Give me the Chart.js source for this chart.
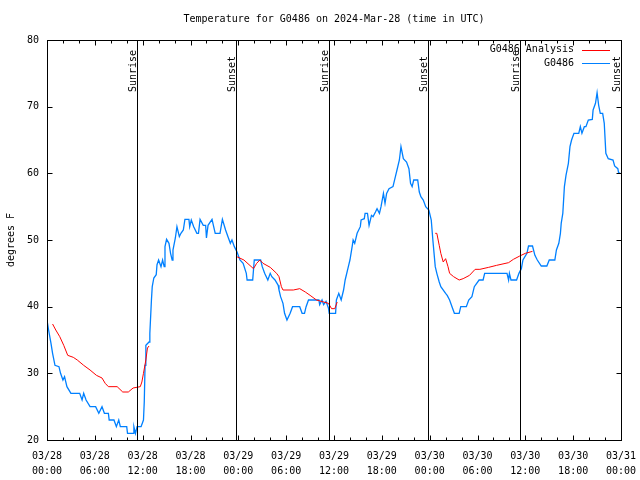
<!DOCTYPE html>
<html>
<head>
<meta charset="utf-8">
<script src="https://cdn.jsdelivr.net/npm/chart.js@4.4.1/dist/chart.umd.min.js"></script>
<style>
  html, body { margin: 0; padding: 0; background: #fff; }
  #wrap { width: 640px; height: 480px; }
</style>
</head>
<body>
<div id="wrap"><canvas id="tempChart" width="640" height="480"></canvas></div>
<script>
// Hours since 03/28 00:00 UTC and temperatures (F)
const obsHours = [0.0, 0.2, 0.5, 0.7, 1.0, 1.5, 1.7, 2.0, 2.2, 2.5, 3.0, 4.1, 4.4, 4.6, 4.9, 5.4, 6.1, 6.5, 6.9, 7.2, 7.7, 7.8, 8.4, 8.7, 9.0, 9.2, 10.0, 10.1, 10.8, 10.9, 11.1, 11.3, 11.8, 12.1, 12.2, 12.3, 12.4, 12.8, 12.9, 13.1, 13.2, 13.4, 13.7, 13.8, 14.0, 14.3, 14.5, 14.7, 14.8, 15.0, 15.3, 15.5, 15.7, 15.8, 16.1, 16.3, 16.6, 16.8, 17.1, 17.3, 17.8, 17.9, 18.1, 18.4, 18.8, 19.0, 19.2, 19.6, 19.9, 20.0, 20.2, 20.7, 21.1, 21.7, 22.0, 22.4, 22.7, 23.0, 23.2, 23.5, 23.8, 24.2, 24.6, 25.0, 25.1, 25.8, 26.0, 26.8, 27.0, 27.3, 27.7, 28.0, 28.2, 28.6, 29.0, 29.1, 29.3, 29.6, 29.8, 30.1, 30.5, 30.8, 31.7, 32.0, 32.3, 32.5, 32.8, 34.1, 34.2, 34.5, 34.7, 35.0, 35.3, 35.4, 36.2, 36.3, 36.6, 36.9, 37.2, 37.4, 37.8, 38.0, 38.3, 38.4, 38.6, 38.9, 39.3, 39.4, 39.8, 39.9, 40.2, 40.4, 40.7, 40.9, 41.2, 41.4, 41.7, 41.9, 42.2, 42.4, 42.6, 42.9, 43.4, 43.7, 43.9, 44.2, 44.4, 44.7, 45.1, 45.4, 45.6, 45.8, 46.0, 46.5, 46.7, 46.9, 47.2, 47.5, 47.9, 48.2, 48.4, 48.7, 48.9, 49.2, 49.4, 50.0, 50.2, 50.5, 50.8, 51.1, 51.7, 51.9, 52.6, 52.9, 53.3, 53.6, 54.2, 54.7, 54.9, 57.7, 57.9, 58.0, 58.2, 58.9, 59.2, 59.5, 59.7, 60.2, 60.4, 60.9, 61.2, 61.5, 62.0, 62.7, 63.0, 63.7, 63.9, 64.2, 64.4, 64.5, 64.7, 64.9, 65.1, 65.4, 65.6, 65.8, 66.1, 66.7, 66.9, 67.1, 67.4, 67.6, 67.9, 68.4, 68.5, 68.8, 69.0, 69.2, 69.4, 69.7, 69.9, 70.1, 70.4, 71.0, 71.2, 71.6, 71.7, 71.9];
const obsTemps = [38, 36.5, 34.5, 33, 31.2, 31, 30, 29, 29.5, 28, 27, 27, 26, 27, 26, 25, 25, 24, 25, 24, 24, 23, 23, 22, 23, 22, 22, 21, 21, 22, 21, 22, 22, 23, 25.7, 31.2, 34.2, 34.7, 36, 41, 43, 44.3, 44.8, 46.3, 47, 46, 47, 46, 49, 50.1, 49.5, 48, 47, 48.5, 50.3, 52, 50.5, 51, 51.5, 53.1, 53.1, 52, 53, 52, 51, 51, 53.1, 52.2, 52.2, 50.3, 52.2, 53.1, 51, 51, 53.1, 51.5, 50.5, 49.5, 50, 49, 48.3, 47, 46.5, 45, 44, 44, 47, 47, 46, 45, 44, 45, 44.5, 44, 43.2, 42.5, 41.5, 40.5, 39, 38, 39, 40, 40, 39, 39, 40, 41, 41, 40.3, 41, 40.3, 40.8, 39.8, 39, 39, 41, 42, 41, 42.5, 44, 46, 47, 49.2, 50, 49.5, 51, 52, 53, 53.2, 54, 54, 52.2, 53.7, 53.5, 54.2, 54.7, 54, 55, 57, 55.5, 57, 57.7, 58, 59.5, 60.5, 62, 64, 62.2, 61.7, 60.7, 58.5, 58, 59, 59, 57.2, 56.5, 56, 55, 54.5, 53, 50, 46, 45, 43.7, 43, 42, 41.7, 41, 40, 39, 39, 40, 40, 41, 41.5, 43, 44, 44, 45, 45, 44, 45, 44, 44, 45, 45.7, 47, 48, 49.1, 49.1, 47.7, 47, 46.1, 46.1, 47, 47, 48.5, 49.5, 51, 52.5, 54, 58, 59.7, 61.5, 64, 65, 66, 66, 67, 66, 67, 67, 68, 68.1, 69.5, 70.5, 72.1, 70.2, 69, 69, 67.5, 63, 62.2, 62, 61.1, 60.7, 60.1, 60];

// analysis series; null marks a gap
const anaHours = [0.7, 1.1, 1.6, 2.1, 2.6, 3.3, 3.8, 4.6, 5.4, 6.2, 6.9, 7.3, 7.7, 8.8, 9.5, 10.2, 10.8, 11.7, 11.9, 12.1, 12.4, 12.6, 12.8, 13.0, 23.8, 24.7, 25.9, 26.3, 26.7, 27.1, 28.0, 28.8, 29.1, 29.4, 29.6, 30.9, 31.7, 32.4, 33.0, 33.8, 34.7, 35.3, 35.7, 36.1, 36.4, 40.0, 48.7, 48.9, 49.2, 49.4, 49.7, 50.0, 50.3, 50.5, 51.0, 51.7, 52.2, 53.0, 53.7, 54.3, 55.4, 56.4, 57.9, 58.5, 59.3, 60.0, 60.9];
const anaTemps = [37.4, 36.5, 35.5, 34.2, 32.7, 32.4, 32, 31.2, 30.5, 29.7, 29.3, 28.5, 28, 28, 27.2, 27.2, 27.8, 28, 28.7, 30, 32, 33.8, 34.1, null, 47.5, 47, 45.7, 46.5, 47, 46.5, 45.9, 45, 44.5, 43, 42.5, 42.5, 42.7, 42.2, 41.7, 41, 40.7, 40.5, 39.7, 39.7, 40.7, null, 51, 51, 49.2, 48, 46.7, 47.2, 46, 45, 44.5, 44, 44.2, 44.7, 45.6, 45.6, 45.9, 46.2, 46.6, 47.1, 47.6, 48, 48.3];

// sunrise / sunset markers (hours)
const sunHours = [11.3, 23.7, 35.4, 47.8, 59.3, 72.0];
const sunLabels = ['Sunrise', 'Sunset', 'Sunrise', 'Sunset', 'Sunrise', 'Sunset'];

// axis tick labels
const dateLabels = ['03/28', '03/28', '03/28', '03/28', '03/29', '03/29', '03/29', '03/29', '03/30', '03/30', '03/30', '03/30', '03/31'];
const timeLabels = ['00:00', '06:00', '12:00', '18:00', '00:00', '06:00', '12:00', '18:00', '00:00', '06:00', '12:00', '18:00', '00:00'];

const seriesNames = ['G0486 Analysis', 'G0486'];
const seriesColors = ['#ff0000', '#0080ff'];

const monoFont = '"DejaVu Sans Mono", "Liberation Mono", monospace';

function toPoints(xs, ys) {
    return xs.map((x, i) => ({ x: x, y: ys[i] }));
}

// frame, inner ticks, sunrise/sunset lines, legend, title
const gnuplotDecor = {
    id: 'gnuplotDecor',
    afterDatasetsDraw(chart) {
        const ctx = chart.ctx;
        const area = chart.chartArea;
        const xs = chart.scales.x;
        const ys = chart.scales.y;
        ctx.save();
        ctx.strokeStyle = '#000';
        ctx.fillStyle = '#000';
        ctx.lineWidth = 1;

        // sunrise / sunset lines
        ctx.font = '10px ' + monoFont;
        sunHours.forEach((h, i) => {
            const px = Math.round(xs.getPixelForValue(h)) + 0.5;
            ctx.beginPath();
            ctx.moveTo(px, area.top);
            ctx.lineTo(px, area.bottom);
            ctx.stroke();
            ctx.save();
            ctx.translate(px - 1.5, 92);
            ctx.rotate(-Math.PI / 2);
            ctx.textAlign = 'left';
            ctx.textBaseline = 'alphabetic';
            ctx.fillText(sunLabels[i], 0, 0);
            ctx.restore();
        });

        // frame
        const l = Math.round(area.left) + 0.5, r = Math.round(area.right) + 0.5;
        const t = Math.round(area.top) + 0.5, b = Math.round(area.bottom) + 0.5;
        ctx.strokeRect(l, t, r - l, b - t);

        // ticks pointing inward
        ctx.beginPath();
        for (let h = 0; h <= 72; h += 2) {
            const px = Math.round(xs.getPixelForValue(h)) + 0.5;
            const len = h % 6 === 0 ? 5 : 3;
            ctx.moveTo(px, b); ctx.lineTo(px, b - len);
            ctx.moveTo(px, t); ctx.lineTo(px, t + len);
        }
        for (let v = 20; v <= 80; v += 10) {
            const py = Math.round(ys.getPixelForValue(v)) + 0.5;
            ctx.moveTo(l, py); ctx.lineTo(l + 5, py);
            ctx.moveTo(r, py); ctx.lineTo(r - 5, py);
        }
        ctx.stroke();

        // legend
        ctx.textAlign = 'right';
        ctx.textBaseline = 'middle';
        seriesNames.forEach((name, i) => {
            const y = 49.5 + i * 13.5;
            ctx.fillStyle = '#000';
            ctx.fillText(name, 574, y);
            ctx.strokeStyle = seriesColors[i];
            ctx.beginPath();
            ctx.moveTo(582, Math.round(y) + 0.5);
            ctx.lineTo(610, Math.round(y) + 0.5);
            ctx.stroke();
        });

        // title
        ctx.fillStyle = '#000';
        ctx.textAlign = 'center';
        ctx.fillText('Temperature for G0486 on 2024-Mar-28 (time in UTC)', 334, 19);

        // y axis title
        ctx.save();
        ctx.translate(11, 240);
        ctx.rotate(-Math.PI / 2);
        ctx.textAlign = 'center';
        ctx.textBaseline = 'middle';
        ctx.fillText('degrees F', 0, 0);
        ctx.restore();

        ctx.restore();
    }
};

const ctx = document.getElementById('tempChart').getContext('2d');
const tempChart = new Chart(ctx, {
    type: 'line',
    data: {
        datasets: [{
            label: seriesNames[0],
            data: toPoints(anaHours, anaTemps),
            borderColor: seriesColors[0],
            borderWidth: 1,
            pointRadius: 0,
            spanGaps: false,
            tension: 0
        }, {
            label: seriesNames[1],
            data: toPoints(obsHours, obsTemps),
            borderColor: seriesColors[1],
            borderWidth: 1.3,
            pointRadius: 0,
            tension: 0
        }]
    },
    options: {
        responsive: false,
        animation: false,
        events: [],
        layout: {
            padding: { top: 40, right: 19, bottom: 0, left: 0 }
        },
        scales: {
            x: {
                type: 'linear',
                min: 0,
                max: 72,
                afterFit: scale => {
                    scale.height = 40;
                    scale.paddingLeft = 0;
                    scale.paddingRight = 0;
                },
                afterBuildTicks: scale => {
                    scale.ticks = timeLabels.map((t, i) => ({ value: i * 6 }));
                },
                grid: { display: false, drawTicks: false },
                border: { display: false },
                ticks: {
                    maxRotation: 0,
                    autoSkip: false,
                    padding: 9,
                    color: '#000',
                    font: { family: monoFont, size: 10, lineHeight: 1.5 },
                    callback: (value) => {
                        const i = Math.round(value / 6);
                        return [dateLabels[i], timeLabels[i]];
                    }
                }
            },
            y: {
                min: 20,
                max: 80,
                afterFit: scale => {
                    scale.width = 47;
                    scale.paddingTop = 0;
                    scale.paddingBottom = 0;
                },
                grid: { display: false, drawTicks: false },
                border: { display: false },
                ticks: {
                    stepSize: 10,
                    padding: 8,
                    color: '#000',
                    font: { family: monoFont, size: 10 }
                }
            }
        },
        plugins: {
            legend: { display: false },
            tooltip: { enabled: false },
            title: { display: false }
        }
    },
    plugins: [gnuplotDecor]
});
</script>
</body>
</html>
